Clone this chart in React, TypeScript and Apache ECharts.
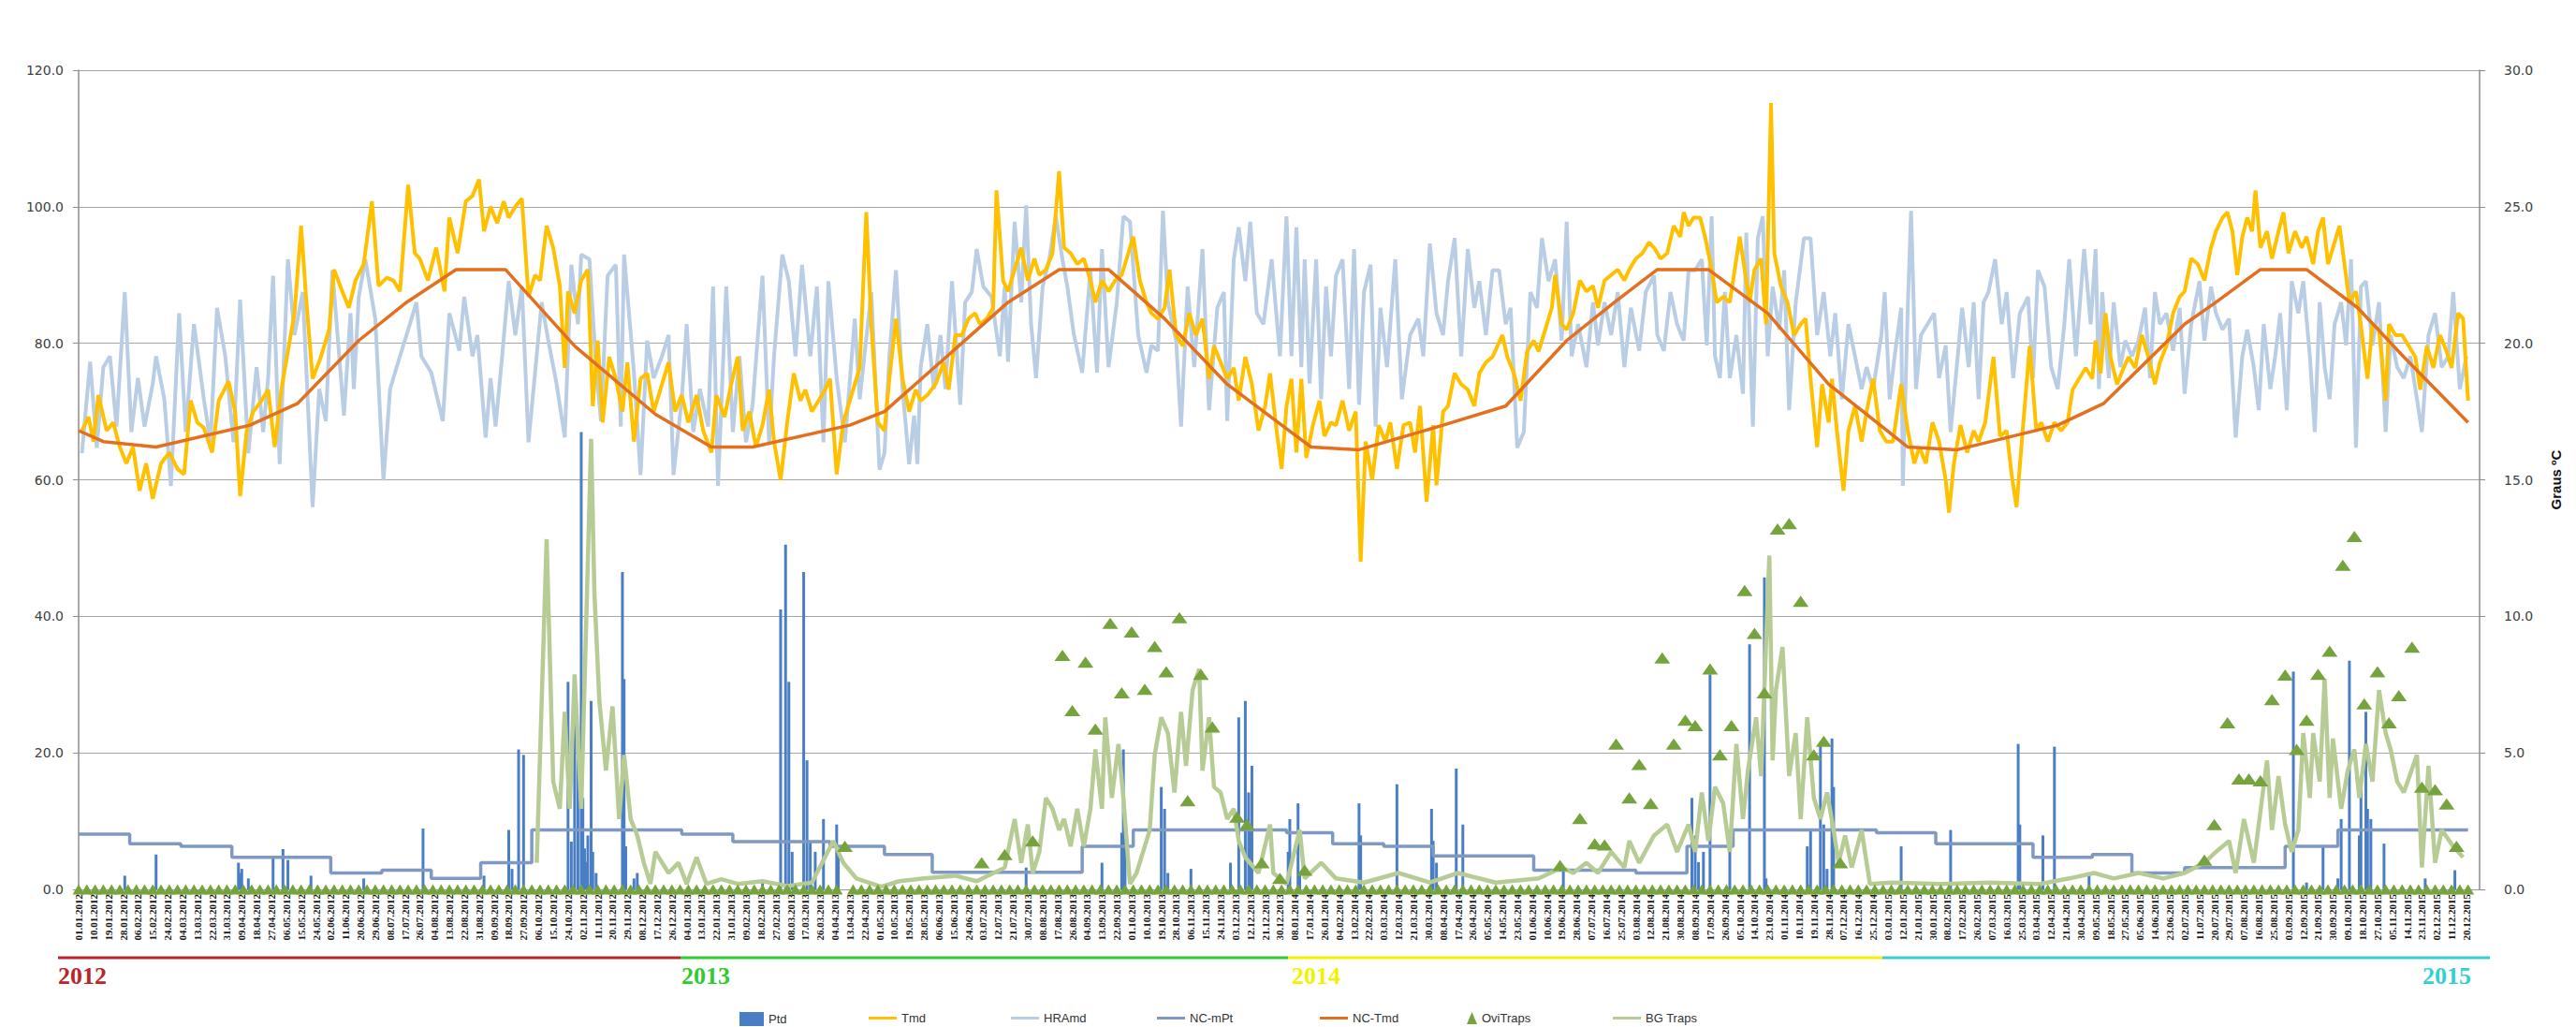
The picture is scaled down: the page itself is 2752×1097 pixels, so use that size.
import React, { useEffect, useRef } from "react";
import * as echarts from "echarts";

// x values are day indices counted from 01.01.2012
const startYear = 2012;
const lastDay = 1457;
const tickStep = 9;

// Ptd – daily precipitation (mm), left axis
const ptd: number[][] = [
  [28, 2.0], [47, 5.1], [97, 3.9], [98, 2.4], [99, 3.0], [103, 1.6], [118, 4.7], [124, 5.9], [127, 4.3], [141, 2.0], [173, 1.6], [209, 8.9], [246, 2.0],
  [261, 8.7], [263, 3.0], [267, 20.5], [270, 19.7], [297, 30.4], [299, 7.0], [301, 28.4], [303, 22.1], [305, 67.0], [306, 13.4], [307, 6.0], [308, 4.0], [309, 7.9], [311, 27.6], [312, 5.5], [314, 2.4], [330, 46.5], [331, 30.8], [332, 6.3], [337, 1.6], [339, 2.4], [415, 1.2], [426, 41.0], [429, 50.5], [431, 30.4], [433, 5.5], [440, 46.5], [442, 18.9], [444, 7.1], [447, 5.5], [452, 10.3], [460, 9.5], [461, 5.5],
  [575, 3.2], [621, 3.9], [633, 8.3], [634, 20.5], [635, 7.9], [657, 15.0], [659, 11.8], [661, 2.4], [675, 3.0], [699, 3.9], [704, 25.2], [708, 27.6], [710, 14.2], [711, 8.7], [712, 18.1], [734, 5.5], [735, 10.3],
  [740, 12.6], [741, 2.4], [777, 12.6], [778, 7.9], [800, 15.4], [821, 11.8], [822, 7.1], [824, 3.9], [836, 17.7], [840, 9.5], [901, 3.2], [979, 13.4], [981, 7.9], [983, 4.0],
  [986, 5.5], [990, 31.5], [1002, 8.7], [1014, 35.9], [1023, 45.7], [1024, 1.6], [1049, 6.3], [1051, 8.7], [1057, 21.3], [1059, 9.5], [1061, 3.0], [1064, 22.1], [1065, 15.0], [1106, 6.3], [1136, 8.7], [1177, 21.3], [1178, 9.5], [1192, 7.9], [1199, 20.9], [1220, 2.4],
  [1344, 31.9], [1352, 1.0], [1362, 6.3], [1371, 1.6], [1373, 10.3], [1378, 33.5], [1384, 7.9], [1385, 15.8], [1388, 26.0], [1389, 11.8], [1391, 10.3], [1399, 6.7], [1424, 1.6], [1442, 2.8]
];

// Tmd – daily mean temperature (ºC), right axis
const tmd: number[][] = [
  [2, 16.8], [6, 17.3], [9, 16.4], [12, 18.1], [17, 16.8], [21, 17.1], [25, 16.2], [29, 15.6], [33, 16.2], [37, 14.6], [41, 15.6], [45, 14.3], [50, 15.6], [55, 16.0], [60, 15.4], [64, 15.2], [68, 17.9], [72, 17.1], [76, 16.9], [81, 16.0], [85, 17.9], [91, 18.6], [95, 17.5], [98, 14.4], [102, 16.8], [106, 17.5], [111, 17.9], [115, 18.3], [119, 16.2], [123, 18.3], [127, 19.7], [131, 21.1], [135, 24.3], [138, 21.7], [142, 18.7], [147, 19.5], [152, 20.5], [155, 22.7], [160, 21.9], [164, 21.3], [168, 22.3], [173, 22.9], [178, 25.2], [182, 22.1], [187, 22.4], [191, 22.3], [195, 21.9], [200, 25.8], [204, 23.3], [207, 23.1], [212, 22.3], [217, 23.5], [222, 21.9], [225, 24.6], [230, 23.3], [235, 25.2], [239, 25.4], [243, 26.0], [246, 24.1], [250, 25.0], [254, 24.4], [258, 25.2], [261, 24.6], [265, 25.0], [269, 25.3], [273, 21.7], [277, 22.5], [280, 22.3], [284, 24.3], [288, 23.5], [292, 22.1], [295, 19.1], [297, 21.9], [301, 21.1], [305, 22.3], [309, 22.7], [312, 17.7], [315, 20.1], [318, 17.1], [322, 19.5], [326, 18.7], [330, 17.5], [333, 19.3], [337, 16.4], [341, 18.7], [345, 18.9], [349, 17.5], [352, 18.1], [358, 19.3], [362, 17.5], [366, 18.1], [370, 17.1], [375, 18.1], [379, 16.8], [384, 16.0], [387, 18.1], [392, 17.3], [396, 18.5], [400, 19.5], [403, 16.8], [407, 17.5], [411, 16.2], [415, 17.0], [419, 18.3], [422, 16.4], [426, 15.0], [430, 17.1], [434, 18.9], [438, 17.9], [441, 18.3], [445, 17.5], [449, 17.9], [453, 18.3], [456, 18.7], [460, 15.2], [464, 17.1], [468, 17.9], [472, 18.7], [474, 19.1], [478, 24.8], [481, 20.7], [485, 17.1], [489, 16.8], [492, 18.7], [496, 20.9], [500, 18.7], [504, 17.5], [508, 18.3], [511, 17.9], [515, 18.1], [520, 18.5], [525, 19.3], [528, 18.3], [532, 20.3], [536, 20.3], [540, 20.9], [544, 21.1], [547, 20.7], [551, 20.9], [555, 21.3], [557, 25.6], [561, 22.3], [564, 21.9], [568, 22.7], [572, 23.5], [576, 22.3], [580, 23.1], [583, 22.5], [587, 22.7], [591, 23.3], [595, 26.3], [598, 23.5], [602, 23.3], [606, 22.9], [610, 23.1], [614, 22.3], [617, 21.5], [621, 22.3], [625, 21.9], [629, 22.3], [633, 22.5], [636, 23.1], [640, 23.9], [644, 22.3], [648, 21.5], [651, 21.1], [655, 20.9], [659, 21.3], [662, 22.7], [666, 20.3], [670, 19.9], [674, 21.1], [678, 20.3], [682, 20.9], [686, 18.7], [689, 19.9], [693, 19.3], [697, 18.7], [701, 19.1], [704, 17.9], [708, 19.5], [712, 18.5], [716, 16.8], [720, 17.7], [723, 18.9], [727, 16.8], [730, 15.4],
  [733, 17.7], [736, 18.7], [739, 16.0], [742, 18.7], [745, 15.8], [749, 17.0], [753, 17.9], [756, 16.6], [760, 17.1], [763, 17.0], [767, 17.9], [771, 16.8], [775, 17.5], [778, 12.0], [781, 16.4], [785, 15.0], [789, 17.0], [793, 16.4], [796, 17.1], [800, 15.4], [804, 17.0], [808, 17.1], [811, 16.0], [814, 17.7], [818, 14.2], [822, 17.0], [824, 14.8], [828, 17.5], [831, 17.7], [835, 18.9], [839, 18.5], [843, 18.3], [847, 17.7], [850, 18.9], [854, 19.3], [858, 19.5], [864, 20.3], [867, 19.5], [871, 18.9], [875, 17.9], [879, 19.7], [883, 20.1], [886, 19.7], [890, 20.5], [894, 21.3], [896, 22.5], [900, 20.7], [903, 20.5], [907, 21.1], [911, 22.3], [915, 21.9], [919, 22.1], [922, 21.3], [926, 22.3], [930, 22.5], [934, 22.7], [938, 22.3], [941, 22.7], [945, 23.1], [949, 23.3], [953, 23.7], [956, 23.5], [960, 23.1], [964, 23.3], [968, 24.3], [972, 23.9], [974, 24.8], [977, 24.3], [980, 24.6], [984, 24.6], [987, 23.9], [991, 22.7], [994, 21.5], [998, 21.7], [1002, 21.5], [1006, 23.1], [1008, 23.9], [1011, 22.7], [1014, 21.5], [1017, 22.7], [1021, 23.1], [1024, 20.7], [1027, 28.8], [1029, 23.3], [1033, 22.1], [1037, 21.5], [1041, 20.3], [1045, 20.7], [1048, 20.9], [1051, 18.7], [1055, 16.2], [1058, 18.5], [1062, 17.1], [1064, 18.7], [1067, 16.8], [1071, 14.6], [1074, 16.8], [1078, 17.7], [1082, 16.4], [1085, 17.5], [1089, 18.7], [1093, 16.8], [1097, 16.4], [1101, 16.4], [1106, 18.5], [1110, 16.8], [1114, 15.6], [1117, 16.2], [1121, 15.6], [1125, 17.1], [1129, 16.4], [1133, 15.0], [1135, 13.8], [1138, 15.6], [1142, 17.0], [1146, 16.0], [1150, 16.8], [1153, 16.4], [1157, 17.1], [1162, 19.5], [1166, 16.6], [1170, 16.8], [1173, 15.2], [1176, 14.0], [1180, 17.0], [1184, 19.9], [1188, 16.8], [1191, 17.1], [1195, 16.4], [1199, 17.1], [1203, 16.8], [1207, 17.1], [1210, 18.3], [1214, 18.7], [1218, 19.1], [1222, 18.7], [1224, 20.1], [1227, 18.9], [1230, 21.1], [1233, 19.5], [1237, 18.5], [1241, 19.1], [1244, 19.5], [1248, 19.1], [1252, 20.3], [1256, 19.5], [1260, 18.5], [1263, 19.3], [1267, 19.9], [1271, 21.1], [1275, 21.7], [1278, 21.9], [1282, 23.1], [1286, 22.9], [1290, 22.3], [1294, 23.5], [1297, 24.1], [1301, 24.6], [1304, 24.8], [1307, 24.1], [1310, 22.5], [1313, 23.9], [1316, 24.6], [1319, 24.1], [1321, 25.6], [1324, 23.5], [1328, 24.1], [1331, 23.1], [1335, 24.1], [1338, 24.8], [1341, 23.3], [1345, 24.1], [1349, 23.5], [1352, 23.9], [1356, 22.9], [1359, 24.1], [1362, 24.6], [1365, 22.9], [1368, 23.5], [1372, 24.3], [1375, 22.9], [1378, 21.5], [1382, 21.9], [1384, 21.1], [1389, 18.7], [1392, 20.7], [1396, 20.5], [1400, 17.9], [1402, 20.7], [1406, 20.3], [1410, 20.3], [1414, 19.9], [1418, 19.5], [1421, 18.3], [1425, 19.9], [1429, 19.1], [1433, 20.3], [1437, 19.7], [1440, 19.1], [1444, 21.1], [1447, 20.9], [1450, 17.9]
];

// HRAmd – daily mean relative humidity (%), left axis
const hra: number[][] = [
  [2, 63.9], [7, 77.3], [11, 64.7], [15, 76.5], [19, 78.1], [23, 67.8], [28, 87.5], [32, 67.0], [36, 74.9], [40, 67.8], [45, 74.1], [47, 78.1], [52, 71.8], [56, 59.1], [61, 84.4], [65, 67.0], [70, 82.8], [76, 71.8], [80, 65.5], [84, 85.2], [89, 78.1], [94, 65.5], [98, 86.4], [103, 63.9], [108, 76.5], [112, 67.0], [115, 74.9], [118, 89.9], [122, 62.3], [127, 92.3], [131, 81.2], [136, 87.5], [142, 56.0], [146, 73.3], [150, 68.6], [154, 90.7], [161, 69.4], [165, 84.4], [167, 73.3], [170, 86.8], [174, 92.3], [180, 83.6], [185, 59.9], [189, 73.3], [195, 78.1], [201, 82.8], [205, 86.0], [208, 78.1], [214, 75.7], [221, 68.6], [225, 84.4], [231, 78.9], [234, 86.8], [239, 78.1], [242, 81.2], [247, 66.2], [250, 74.9], [253, 67.8], [257, 78.1], [261, 89.1], [265, 81.2], [269, 88.3], [273, 65.5], [277, 75.7], [281, 86.0], [285, 80.4], [290, 74.1], [295, 66.2], [299, 91.5], [303, 82.8], [305, 93.0], [310, 92.3], [314, 76.5], [317, 68.6], [321, 89.9], [326, 91.5], [329, 67.8], [331, 93.0], [337, 75.7], [341, 60.7], [345, 80.4], [349, 74.9], [354, 78.1], [358, 81.2], [361, 60.7], [366, 71.8], [369, 82.8], [373, 67.0], [377, 73.3], [382, 67.8], [385, 88.3], [388, 59.1], [393, 88.3], [397, 67.0], [401, 78.1], [405, 65.5], [409, 71.0], [415, 89.9], [419, 65.5], [422, 78.1], [427, 93.0], [431, 89.1], [435, 78.1], [439, 91.5], [444, 78.1], [448, 88.3], [452, 65.5], [455, 89.1], [460, 74.9], [465, 65.5], [471, 83.6], [474, 71.8], [481, 87.5], [486, 61.5], [489, 63.9], [492, 78.1], [496, 90.7], [500, 73.3], [504, 62.3], [507, 69.4], [509, 62.3], [511, 76.5], [515, 82.8], [519, 73.3], [523, 81.2], [526, 73.3], [530, 89.1], [535, 71.0], [538, 86.0], [542, 87.5], [545, 93.8], [549, 88.3], [554, 86.8], [559, 78.1], [562, 88.3], [564, 77.3], [568, 97.8], [572, 86.0], [575, 100.2], [578, 82.8], [581, 74.9], [585, 88.3], [589, 92.3], [593, 98.6], [597, 92.3], [600, 88.3], [604, 81.2], [609, 75.7], [614, 90.7], [618, 75.7], [621, 93.8], [625, 76.5], [630, 86.0], [634, 98.6], [638, 97.8], [643, 81.2], [648, 75.7], [651, 79.7], [655, 78.9], [658, 99.4], [661, 86.0], [666, 80.4], [669, 67.8], [673, 88.3], [677, 76.5], [682, 93.8], [686, 70.2], [691, 85.2], [695, 87.5], [697, 68.6], [701, 92.3], [704, 97.0], [708, 89.1], [711, 97.8], [715, 84.4], [719, 82.8], [724, 92.3], [729, 78.1],
  [733, 98.6], [736, 78.1], [739, 97.0], [742, 76.5], [744, 92.3], [747, 74.1], [751, 92.3], [754, 71.8], [757, 88.3], [760, 78.1], [763, 89.9], [767, 92.3], [771, 73.3], [774, 93.8], [777, 71.0], [780, 87.5], [784, 91.5], [787, 67.8], [790, 85.2], [794, 76.5], [799, 92.3], [803, 71.8], [808, 81.2], [813, 83.6], [816, 78.1], [820, 94.6], [824, 84.4], [828, 81.2], [831, 89.1], [835, 95.4], [839, 78.1], [843, 93.8], [847, 85.2], [850, 89.1], [854, 81.2], [858, 90.7], [862, 90.7], [866, 82.8], [869, 85.2], [873, 64.7], [877, 67.0], [881, 87.5], [885, 85.2], [888, 95.4], [892, 89.1], [896, 92.3], [900, 80.4], [903, 97.8], [906, 78.1], [910, 82.8], [915, 76.5], [919, 86.0], [922, 79.7], [926, 86.0], [930, 81.2], [934, 87.5], [938, 76.5], [942, 85.2], [947, 78.9], [951, 87.5], [956, 89.9], [958, 81.2], [962, 78.9], [966, 87.5], [970, 82.8], [974, 80.4], [977, 90.7], [981, 90.7], [985, 92.3], [988, 79.7], [991, 98.6], [993, 78.1], [996, 74.9], [999, 87.5], [1002, 74.9], [1006, 81.2], [1010, 72.6], [1012, 96.2], [1016, 67.8], [1019, 95.4], [1022, 98.6], [1025, 78.1], [1028, 88.3], [1032, 82.0], [1035, 90.7], [1038, 70.2], [1042, 86.0], [1047, 95.4], [1051, 95.4], [1055, 81.2], [1059, 87.5], [1063, 78.1], [1066, 84.4], [1070, 71.8], [1074, 82.8], [1078, 78.1], [1082, 73.3], [1085, 76.5], [1089, 73.3], [1094, 81.2], [1096, 87.5], [1099, 71.8], [1102, 78.1], [1106, 85.2], [1107, 59.1], [1110, 85.2], [1112, 99.4], [1115, 73.3], [1118, 81.2], [1122, 82.8], [1126, 84.4], [1129, 74.9], [1133, 79.7], [1136, 67.0], [1140, 77.3], [1143, 85.2], [1147, 76.5], [1150, 86.0], [1153, 71.8], [1156, 86.0], [1159, 87.5], [1163, 92.3], [1167, 82.8], [1170, 87.5], [1174, 74.9], [1178, 84.4], [1183, 86.8], [1186, 74.9], [1189, 90.7], [1193, 88.3], [1197, 76.5], [1201, 73.3], [1205, 82.8], [1208, 92.3], [1212, 78.1], [1217, 93.8], [1221, 82.8], [1224, 93.8], [1226, 73.3], [1228, 87.5], [1232, 74.9], [1235, 86.0], [1239, 76.5], [1242, 80.4], [1246, 78.1], [1250, 80.4], [1254, 85.2], [1257, 74.9], [1260, 87.5], [1263, 82.8], [1267, 84.4], [1271, 78.9], [1275, 85.2], [1278, 72.6], [1282, 82.8], [1287, 89.1], [1290, 80.4], [1294, 88.3], [1297, 84.4], [1301, 82.0], [1305, 83.6], [1309, 66.2], [1313, 78.1], [1316, 82.0], [1320, 76.5], [1323, 70.2], [1326, 82.8], [1330, 73.3], [1333, 78.1], [1336, 84.4], [1340, 70.2], [1343, 89.1], [1347, 84.4], [1350, 89.1], [1354, 78.1], [1357, 67.0], [1360, 86.0], [1363, 76.5], [1366, 71.8], [1369, 82.8], [1373, 86.0], [1376, 79.7], [1379, 92.3], [1382, 64.7], [1385, 88.3], [1388, 89.1], [1392, 79.7], [1396, 86.0], [1400, 67.0], [1403, 81.2], [1407, 76.5], [1411, 74.9], [1415, 78.1], [1419, 71.8], [1422, 67.0], [1426, 81.2], [1430, 84.4], [1434, 76.5], [1438, 78.1], [1441, 87.5], [1445, 73.3], [1449, 78.1]
];

// NC-mPt – climate normal of precipitation (step line), left axis
const ncMpt: number[][] = [
  [0, 8.1], [31, 6.7], [62, 6.3], [93, 4.7], [153, 2.4], [184, 2.8], [214, 1.6], [244, 3.9], [275, 8.7],
  [366, 8.1], [397, 7.0], [456, 6.3], [489, 5.1], [518, 2.5], [609, 6.3], [640, 8.7],
  [733, 8.3], [761, 6.7], [792, 6.3], [822, 4.9], [883, 2.8], [945, 2.4], [976, 6.3], [1004, 8.7],
  [1091, 8.3], [1127, 6.7], [1186, 4.7], [1222, 5.1], [1246, 2.4], [1278, 3.2], [1339, 6.3], [1371, 8.7], [1450, 8.7]
];

// NC-Tmd – climate normal of temperature (ºC), right axis
const ncTmd: number[][] = [
  [0, 16.8], [15, 16.4], [47, 16.2], [104, 17.0], [133, 17.8], [170, 20.1], [199, 21.5], [229, 22.7], [259, 22.7], [301, 19.9], [350, 17.4], [384, 16.2], [409, 16.2], [468, 17.0], [489, 17.5], [534, 19.9], [564, 21.5], [595, 22.7], [625, 22.7], [659, 20.9], [697, 18.5], [739, 16.6], [748, 16.2], [777, 16.1], [828, 17.0], [866, 17.7], [903, 20.1], [932, 21.5], [958, 22.7], [989, 22.7], [1025, 21.1], [1062, 18.5], [1110, 16.2], [1140, 16.1], [1201, 17.0], [1229, 17.8], [1278, 20.7], [1297, 21.5], [1324, 22.7], [1352, 22.7], [1383, 21.3], [1411, 19.5], [1450, 17.1]
];

// OviTraps – non-zero counts, left axis
const oviTraps: number[][] = [
  [465, 6.3], [548, 3.9], [562, 5.1], [579, 7.1], [597, 34.3], [603, 26.2], [611, 33.3], [617, 23.5], [626, 39.0], [633, 28.8], [639, 37.7], [647, 29.3], [653, 35.6], [660, 31.9], [668, 39.8], [673, 13.0], [681, 31.5], [688, 23.8], [703, 10.6], [709, 9.5], [718, 3.9], [729, 1.6],
  [744, 2.8], [899, 3.5], [911, 10.4], [920, 6.7], [926, 6.5], [933, 21.3], [941, 13.4], [947, 18.3], [954, 12.6], [961, 33.9], [968, 21.3], [975, 24.8], [981, 24.0], [990, 32.3], [996, 19.7], [1003, 24.0], [1011, 43.8], [1017, 37.5], [1023, 28.8], [1031, 52.8], [1038, 53.6], [1045, 42.2], [1053, 19.7], [1059, 21.7], [1069, 3.9],
  [1290, 4.3], [1296, 9.5], [1304, 24.4], [1311, 16.2], [1317, 16.2], [1324, 15.9], [1331, 27.8], [1339, 31.4], [1346, 20.5], [1352, 24.8], [1359, 31.5], [1366, 34.9], [1374, 47.5], [1381, 51.7], [1387, 27.2], [1395, 31.9], [1402, 24.4], [1408, 28.4], [1416, 35.5], [1422, 15.0], [1430, 14.6], [1437, 12.5], [1443, 6.3]
];

// OviTraps – days with zero counts (markers along the baseline)
const oviZeroDays: number[] = [
  0, 5, 10, 15, 20, 25, 30, 35, 40, 45, 50, 55, 60, 65, 70, 75, 80, 85, 90, 95,
  100, 105, 110, 115, 120, 125, 130, 135, 140, 145, 150, 155, 160, 165, 170, 175, 180, 185, 190, 195,
  200, 205, 210, 215, 220, 225, 230, 235, 240, 245, 250, 255, 260, 265, 270, 275, 280, 285, 290, 295,
  300, 305, 310, 315, 320, 325, 330, 335, 340, 345, 350, 355, 360, 365, 370, 375, 380, 385, 390, 395,
  400, 405, 410, 415, 420, 425, 430, 435, 440, 445, 450, 455, 460, 470, 475, 480, 485, 490, 495,
  500, 505, 510, 515, 520, 525, 530, 535, 540, 545, 550, 555, 560, 565, 570, 575, 580, 585, 590, 595,
  600, 605, 610, 615, 620, 625, 630, 635, 640, 645, 650, 655, 660, 665, 670, 675, 680, 685, 690, 695,
  700, 705, 710, 715, 720, 725, 730, 735, 740, 745, 750, 755, 760, 765, 770, 775, 780, 785, 790, 795,
  800, 805, 810, 815, 820, 825, 830, 835, 840, 845, 850, 855, 860, 865, 870, 875, 880, 885, 890, 895,
  900, 905, 910, 915, 920, 925, 930, 935, 940, 945, 950, 955, 960, 965, 970, 975, 980, 985, 990, 995,
  1000, 1005, 1010, 1015, 1020, 1025, 1030, 1035, 1040, 1045, 1050, 1055, 1060, 1065, 1070, 1075, 1080, 1085, 1090, 1095,
  1100, 1105, 1110, 1115, 1120, 1125, 1130, 1135, 1140, 1145, 1150, 1155, 1160, 1165, 1170, 1175, 1180, 1185, 1190, 1195,
  1200, 1205, 1210, 1215, 1220, 1225, 1230, 1235, 1240, 1245, 1250, 1255, 1260, 1265, 1270, 1275, 1280, 1285, 1290, 1295,
  1300, 1305, 1310, 1315, 1320, 1325, 1330, 1335, 1340, 1345, 1350, 1355, 1360, 1365, 1370, 1375, 1380, 1385, 1390, 1395,
  1400, 1405, 1410, 1415, 1420, 1425, 1430, 1435, 1440, 1445, 1450
];

// BG Traps – counts, left axis
const bgTraps: number[][] = [
  [278, 3.9], [284, 51.3], [288, 15.8], [292, 11.8], [295, 26.0], [298, 11.8], [301, 31.5], [305, 11.8], [311, 66.0], [313, 43.4], [316, 27.6], [320, 17.4], [324, 26.8], [328, 10.3], [331, 19.7], [335, 10.3], [339, 7.9], [343, 3.9], [347, 0.8], [350, 5.5], [358, 2.4], [364, 3.9], [369, 0.8], [375, 4.7], [381, 0.8], [390, 1.5], [400, 0.8], [415, 1.2], [430, 0.5], [445, 1.0], [458, 7.1], [464, 3.9], [472, 1.6], [487, 0.4],
  [498, 1.2], [513, 1.6], [532, 2.0], [545, 1.2], [562, 3.2], [568, 10.3], [572, 3.9], [576, 9.5], [579, 2.4], [583, 5.5], [587, 13.4], [591, 11.8], [595, 8.7], [598, 10.3], [602, 6.3], [606, 11.8], [610, 6.3], [614, 11.8], [617, 20.5], [621, 11.8], [623, 25.2], [627, 13.4], [631, 21.3], [634, 13.4], [638, 0.8], [642, 2.4], [650, 8.7], [653, 19.7], [657, 25.2], [661, 22.9], [665, 14.2], [669, 26.0], [672, 18.1], [676, 29.2], [680, 32.3], [682, 17.4], [686, 25.2], [689, 15.0], [693, 14.2], [697, 10.3], [701, 11.8], [704, 7.1], [708, 4.7], [716, 2.4], [723, 9.5], [725, 2.4], [733, 0.8],
  [741, 8.7], [744, 1.6], [754, 3.9], [763, 1.6], [780, 1.0], [801, 2.4], [820, 1.0], [837, 2.4], [860, 1.0], [886, 1.6], [900, 3.2], [907, 2.4], [915, 3.9], [922, 2.4], [930, 5.5], [938, 3.2], [941, 7.1], [947, 3.9], [956, 7.9], [964, 9.5], [970, 5.5], [977, 9.5], [981, 5.5], [985, 14.2], [989, 7.1], [993, 15.0], [998, 12.6], [1002, 5.5], [1006, 21.3], [1010, 10.3], [1013, 17.4], [1018, 25.2], [1021, 16.6], [1026, 48.9], [1028, 18.9], [1030, 29.2], [1034, 35.5], [1038, 16.6], [1042, 22.9], [1045, 10.3], [1049, 25.2], [1053, 13.4], [1057, 10.3], [1061, 14.2], [1065, 8.7], [1068, 3.9], [1072, 7.9], [1076, 3.2], [1082, 8.7], [1087, 0.8], [1100, 1.0], [1130, 0.8], [1160, 1.0], [1190, 0.8], [1208, 1.6], [1223, 2.4],
  [1235, 1.6], [1250, 2.4], [1265, 1.6], [1278, 2.4], [1290, 3.9], [1297, 5.5], [1305, 7.1], [1309, 2.4], [1314, 10.3], [1320, 3.9], [1328, 18.9], [1331, 8.7], [1335, 16.6], [1339, 9.5], [1343, 5.5], [1347, 8.7], [1350, 22.9], [1354, 13.4], [1356, 22.9], [1360, 15.8], [1363, 30.8], [1366, 13.4], [1368, 22.1], [1373, 11.8], [1377, 17.4], [1381, 20.5], [1384, 13.4], [1388, 21.3], [1392, 15.8], [1396, 29.2], [1400, 22.9], [1403, 20.5], [1407, 15.8], [1411, 14.2], [1419, 19.7], [1422, 3.2], [1426, 18.1], [1430, 3.9], [1434, 8.7], [1441, 6.3], [1447, 4.7]
];

const yearLabels = ["2012", "2013", "2014", "2015"];
const yearColors = ["#B8262B", "#2FCB2F", "#F2F200", "#35CFD2"];
const legendNames = ["Ptd", "Tmd", "HRAmd", "NC-mPt", "NC-Tmd", "OviTraps", "BG Traps"];

const dayLabel = (i: number) => {
  const d = new Date(Date.UTC(startYear, 0, 1) + Math.round(i) * 86400000);
  const dd = String(d.getUTCDate()).padStart(2, "0");
  const mm = String(d.getUTCMonth() + 1).padStart(2, "0");
  return `${dd}.${mm}.${d.getUTCFullYear()}`;
};

export default function App() {
  const ref = useRef<HTMLDivElement>(null);
  useEffect(() => {
    document.body.style.margin = "0";
    const chart = echarts.init(ref.current!, null, { renderer: "svg" });
    const C: Record<string, string> = {
      Ptd: "#4A7EC4",
      Tmd: "#FFC000",
      HRAmd: "#B9CDE5",
      "NC-mPt": "#7F99C2",
      "NC-Tmd": "#E2701F",
      OviTraps: "#77A33F",
      "BG Traps": "#B7CC95"
    };
    const legendText = { fontSize: 13, fontFamily: "Liberation Sans Narrow, Liberation Sans, sans-serif", color: "#333" };
    const legendPos = [785, 923, 1075, 1231, 1405, 1562, 1718];
    const legends = legendNames.map((n, i) => {
      const isBar = n === "Ptd";
      const isTri = n === "OviTraps";
      return {
        left: legendPos[i],
        top: 1076,
        itemWidth: isBar ? 26 : isTri ? 11 : 30,
        itemHeight: isBar ? 15 : isTri ? 13 : 3,
        itemGap: 4,
        textStyle: legendText,
        selectedMode: false,
        data: [{ name: n, icon: isTri ? "triangle" : "rect", itemStyle: { color: C[n] } }]
      };
    });

    const yearX = [62, 728, 1380, 2588];
    const lineSeg = [[62, 727], [727, 1376], [1376, 2011], [2011, 2660]];
    const graphics: any[] = [];
    yearLabels.forEach((y, i) => {
      graphics.push({
        type: "line",
        shape: { x1: lineSeg[i][0], y1: 1023, x2: lineSeg[i][1], y2: 1023 },
        style: { stroke: yearColors[i], lineWidth: 3 },
        silent: true
      });
      graphics.push({
        type: "text",
        left: yearX[i],
        top: 1029,
        style: {
          text: y,
          fill: yearColors[i],
          font: "bold 26px 'Liberation Serif', serif"
        },
        silent: true
      });
    });

    chart.setOption({
      animation: false,
      backgroundColor: "#ffffff",
      grid: { left: 84, right: 103, top: 75, bottom: 147, containLabel: false },
      legend: legends,
      graphic: graphics,
      xAxis: {
        type: "value",
        min: 0,
        max: lastDay,
        interval: tickStep,
        axisLine: { show: true, lineStyle: { color: "#999", width: 1 } },
        axisTick: { show: true, length: 3, lineStyle: { color: "#999" } },
        splitLine: { show: false },
        axisLabel: {
          rotate: 90,
          fontSize: 11,
          fontWeight: "bold",
          fontFamily: "Liberation Serif, serif",
          color: "#1a1a1a",
          margin: 5,
          showMaxLabel: false,
          formatter: (v: number) => dayLabel(v)
        }
      },
      yAxis: [
        {
          type: "value",
          min: 0,
          max: 120,
          interval: 20,
          position: "left",
          axisLine: { show: true, lineStyle: { color: "#8c8c8c", width: 1.5 } },
          axisTick: { show: true, length: 6, lineStyle: { color: "#8c8c8c" } },
          splitLine: { show: true, lineStyle: { color: "#A6A6A6", width: 1 } },
          axisLabel: {
            margin: 16,
            fontSize: 14,
            fontFamily: "DejaVu Sans, sans-serif",
            color: "#404040",
            formatter: (v: number) => v.toFixed(1)
          }
        },
        {
          type: "value",
          min: 0,
          max: 30,
          interval: 5,
          position: "right",
          name: "Graus ºC",
          nameLocation: "middle",
          nameRotate: 90,
          nameGap: 74,
          nameTextStyle: {
            fontSize: 15,
            fontWeight: "bold",
            fontFamily: "Liberation Sans Narrow, Liberation Sans, sans-serif",
            color: "#111"
          },
          axisLine: { show: true, lineStyle: { color: "#8c8c8c", width: 1.5 } },
          axisTick: { show: true, length: 6, lineStyle: { color: "#8c8c8c" } },
          splitLine: { show: false },
          axisLabel: {
            margin: 26,
            fontSize: 14,
            fontFamily: "DejaVu Sans, sans-serif",
            color: "#404040",
            formatter: (v: number) => v.toFixed(1)
          }
        }
      ],
      series: [
        {
          name: "Ptd",
          type: "bar",
          yAxisIndex: 0,
          data: ptd,
          barWidth: 3,
          itemStyle: { color: C.Ptd },
          z: 1
        },
        {
          name: "HRAmd",
          type: "line",
          yAxisIndex: 0,
          data: hra,
          symbol: "none",
          lineStyle: { color: C.HRAmd, width: 4 },
          itemStyle: { color: C.HRAmd },
          z: 2
        },
        {
          name: "NC-mPt",
          type: "line",
          yAxisIndex: 0,
          data: ncMpt,
          step: "end",
          symbol: "none",
          lineStyle: { color: C["NC-mPt"], width: 3.5 },
          itemStyle: { color: C["NC-mPt"] },
          z: 3
        },
        {
          name: "BG Traps",
          type: "line",
          yAxisIndex: 0,
          data: bgTraps,
          symbol: "none",
          lineStyle: { color: C["BG Traps"], width: 4.5 },
          itemStyle: { color: C["BG Traps"] },
          z: 4
        },
        {
          name: "OviTraps",
          type: "scatter",
          yAxisIndex: 0,
          data: oviZeroDays.map((d) => [d, 0]),
          symbol: "triangle",
          symbolSize: [13, 11],
          itemStyle: { color: C.OviTraps, opacity: 1 },
          z: 5
        },
        {
          name: "OviTraps",
          type: "scatter",
          yAxisIndex: 0,
          data: oviTraps,
          symbol: "triangle",
          symbolSize: [17, 12],
          itemStyle: { color: C.OviTraps, opacity: 1 },
          z: 5
        },
        {
          name: "Tmd",
          type: "line",
          yAxisIndex: 1,
          data: tmd,
          symbol: "none",
          lineStyle: { color: C.Tmd, width: 4 },
          itemStyle: { color: C.Tmd },
          z: 6
        },
        {
          name: "NC-Tmd",
          type: "line",
          yAxisIndex: 1,
          data: ncTmd,
          symbol: "none",
          lineStyle: { color: C["NC-Tmd"], width: 3.5 },
          itemStyle: { color: C["NC-Tmd"] },
          z: 7
        }
      ]
    });
    return () => chart.dispose();
  }, []);
  return <div ref={ref} style={{ width: 2752, height: 1097 }} />;
}
